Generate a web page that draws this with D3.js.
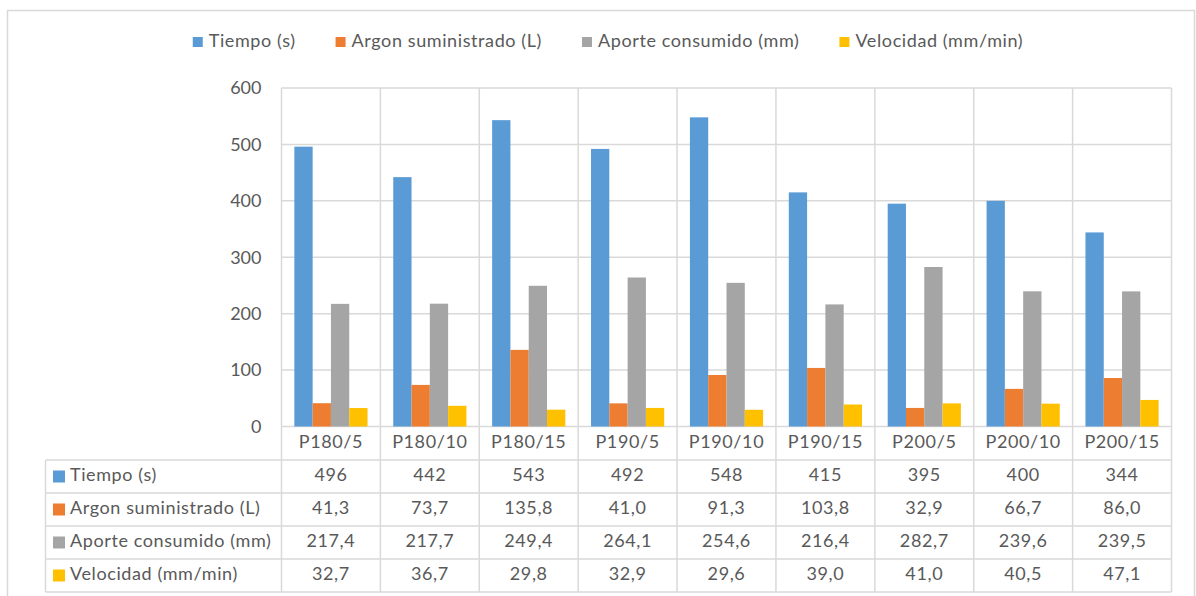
<!DOCTYPE html>
<html>
<head>
<meta charset="utf-8">
<script src="https://cdn.jsdelivr.net/npm/d3@7"></script>
<style>
  html, body { margin: 0; padding: 0; background: #fff; }
  svg { display: block; }
  text { font-family: Lato, "Open Sans", sans-serif; fill: #595959; letter-spacing: 0.6px; }
</style>
</head>
<body>
<svg id="chart" width="1196" height="596"></svg>
<script>
// Welding trials: categories and the four measured series
const categories = ["P180/5", "P180/10", "P180/15", "P190/5", "P190/10", "P190/15", "P200/5", "P200/10", "P200/15"];
const seriesNames = ["Tiempo (s)", "Argon suministrado (L)", "Aporte consumido (mm)", "Velocidad (mm/min)"];
const tiempo    = [496, 442, 543, 492, 548, 415, 395, 400, 344];
const argon     = [41.3, 73.7, 135.8, 41.0, 91.3, 103.8, 32.9, 66.7, 86.0];
const aporte    = [217.4, 217.7, 249.4, 264.1, 254.6, 216.4, 282.7, 239.6, 239.5];
const velocidad = [32.7, 36.7, 29.8, 32.9, 29.6, 39.0, 41.0, 40.5, 47.1];
const yTicks = [0, 100, 200, 300, 400, 500, 600];
const colors = ["#5B9BD5", "#ED7D31", "#A5A5A5", "#FFC000"];

const seriesValues = [tiempo, argon, aporte, velocidad];
const fmt = (v, i) => i === 0 ? String(v) : v.toFixed(1).replace(".", ",");

const svg = d3.select("#chart");
const grid = "#d9d9d9";
const fs = 18;

// plot area geometry
const plotLeft = 281.5, plotRight = 1171.5, plotTop = 88, plotBase = 426.5;
const tableLeft = 45.5, tableTop = 460, rowH = 33;

const x0 = d3.scaleBand().domain(categories).range([plotLeft, plotRight]).padding(0);
const bw = x0.bandwidth();
const x1 = d3.scaleBand().domain(d3.range(seriesNames.length)).range([bw * 0.13, bw * 0.87]).padding(0);
const y = d3.scaleLinear().domain([0, 600]).range([plotBase, plotTop]);

// outer chart frame
svg.append("rect").attr("x", 7.5).attr("y", 10.5).attr("width", 1187).attr("height", 600)
  .attr("fill", "none").attr("stroke", grid).attr("stroke-width", 1.5);

// horizontal gridlines
svg.append("g").selectAll("line").data(yTicks).join("line")
  .attr("x1", plotLeft).attr("x2", plotRight)
  .attr("y1", d => y(d)).attr("y2", d => y(d))
  .attr("stroke", grid).attr("stroke-width", 1.5);

// vertical gridlines running through the data table
const vEdges = categories.map(c => x0(c)).concat([plotRight]);
svg.append("g").selectAll("line").data(vEdges).join("line")
  .attr("x1", d => d).attr("x2", d => d)
  .attr("y1", plotTop).attr("y2", tableTop + rowH * 4)
  .attr("stroke", grid).attr("stroke-width", 1.5);

// table horizontal rules
const rules = d3.range(5).map(i => tableTop + i * rowH);
svg.append("g").selectAll("line").data(rules).join("line")
  .attr("x1", tableLeft).attr("x2", plotRight)
  .attr("y1", d => d).attr("y2", d => d)
  .attr("stroke", grid).attr("stroke-width", 1.5);
svg.append("line").attr("x1", tableLeft).attr("x2", tableLeft)
  .attr("y1", tableTop).attr("y2", tableTop + rowH * 4)
  .attr("stroke", grid).attr("stroke-width", 1.5);

// bars
const barG = svg.append("g");
seriesValues.forEach((vals, si) => {
  barG.append("g").selectAll("rect").data(vals).join("rect")
    .attr("x", (d, i) => x0(categories[i]) + x1(si))
    .attr("width", x1.bandwidth())
    .attr("y", d => y(d))
    .attr("height", d => y(0) - y(d))
    .attr("fill", colors[si]);
});

// y axis labels
const yAxis = d3.axisLeft(y).tickValues(yTicks).tickSize(0).tickPadding(0);
const ya = svg.append("g").attr("transform", `translate(${plotLeft - 20},0)`).call(yAxis);
ya.select(".domain").remove();
ya.selectAll("text").attr("font-size", fs).style("font-family", "Lato, sans-serif")
  .style("letter-spacing", "0px").attr("fill", "#595959");

// category labels
const xAxis = d3.axisBottom(x0).tickSize(0).tickPadding(0);
const xa = svg.append("g").attr("transform", `translate(0,${plotBase})`).call(xAxis);
xa.select(".domain").remove();
xa.selectAll("text").attr("font-size", fs).attr("dy", null).attr("y", 17)
  .attr("dominant-baseline", "middle").style("font-family", "Lato, sans-serif").attr("fill", "#595959");

// data table
seriesNames.forEach((name, si) => {
  const cy = tableTop + si * rowH + rowH / 2;
  svg.append("rect").attr("x", 53).attr("y", cy - 6).attr("width", 12).attr("height", 12).attr("fill", colors[si]);
  svg.append("text").attr("x", 70).attr("y", cy).attr("dominant-baseline", "middle")
    .attr("font-size", fs).text(name);
  svg.append("g").selectAll("text").data(seriesValues[si]).join("text")
    .attr("x", (d, i) => x0(categories[i]) + bw / 2)
    .attr("y", cy).attr("text-anchor", "middle").attr("dominant-baseline", "middle")
    .attr("font-size", fs).text(d => fmt(d, si));
});

// legend, centred above the plot
const legend = svg.append("g");
let cursor = 0;
const itemGap = 40;
seriesNames.forEach((name, si) => {
  const g = legend.append("g").attr("transform", `translate(${cursor},0)`);
  g.append("rect").attr("x", 0).attr("y", -5).attr("width", 10).attr("height", 10).attr("fill", colors[si]);
  const t = g.append("text").attr("x", 16).attr("y", 0).attr("dominant-baseline", "middle")
    .attr("font-size", fs).text(name);
  cursor += 16 + t.node().getComputedTextLength() + itemGap;
});
const legendW = cursor - itemGap;
legend.attr("transform", `translate(${608 - legendW / 2},42)`);
</script>
</body>
</html>
